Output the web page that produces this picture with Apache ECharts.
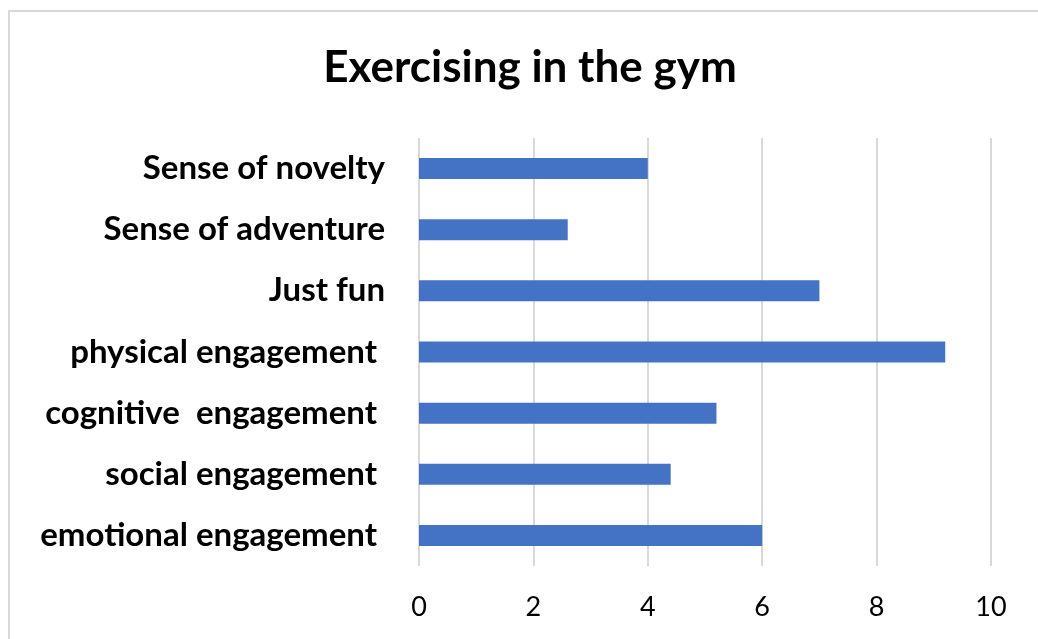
<!DOCTYPE html>
<html><head><meta charset="utf-8">
<script src="https://cdn.jsdelivr.net/npm/echarts@6/dist/echarts.min.js"></script>
<style>html,body{margin:0;padding:0;background:#fff}#c{width:1038px;height:639px}</style>
</head><body><div id="c"></div>
<script>
const titleText = "Exercising in the gym";
const categories = ["Sense of novelty", "Sense of adventure", "Just fun", "physical engagement ", "cognitive  engagement ", "social engagement ", "emotional engagement "];
const values = [4.0, 2.6, 7.0, 9.2, 5.2, 4.4, 6.0];
const xTicks = { min: 0, max: 10, interval: 2 };

const chart = echarts.init(document.getElementById('c'), null, { renderer: 'canvas' });
chart.setOption({
  animation: false,
  backgroundColor: '#fff',
  graphic: [{ type: 'rect', shape: { x: 9, y: 11, width: 1200, height: 800 }, style: { fill: 'none', stroke: '#d9d9d9', lineWidth: 2 } }],
  title: { text: titleText, left: 525, top: 41, textAlign: 'center',
    textStyle: { fontFamily: 'Lato', fontWeight: 'bold', fontSize: 44, color: '#000' } },
  grid: { left: 419, right: 47, top: 138, bottom: 73, containLabel: false },
  xAxis: { type: 'value', min: xTicks.min, max: xTicks.max, interval: xTicks.interval,
    axisLine: { show: false }, axisTick: { show: false },
    axisLabel: { fontFamily: 'Lato', fontSize: 27, color: '#000', margin: 28 },
    splitLine: { show: true, lineStyle: { color: '#d9d9d9', width: 2 } } },
  yAxis: { type: 'category', data: categories, inverse: true,
    axisLine: { show: false }, axisTick: { show: false },
    axisLabel: { fontFamily: 'Lato', fontWeight: 'bold', fontSize: 33, color: '#000', margin: 34 } },
  series: [{ type: 'bar', data: values, barWidth: 21, itemStyle: { color: '#4472C4' } }]
});
</script></body></html>
